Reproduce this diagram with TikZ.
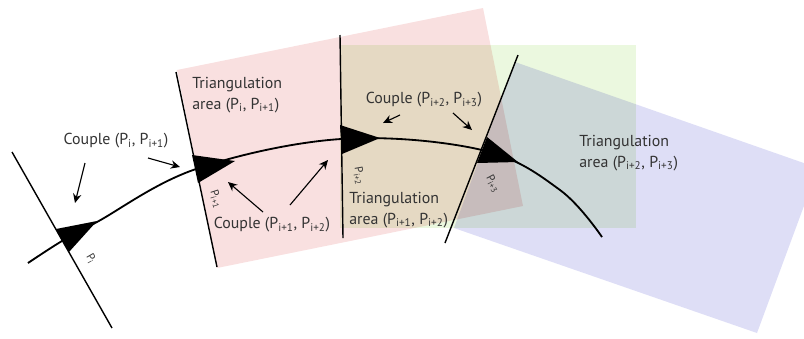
\documentclass[tikz,border=0pt]{standalone}
\usepackage{fontspec}
\setmainfont{PT Sans}
\usetikzlibrary{arrows.meta}
\definecolor{areapink}{RGB}{249,224,224}
\definecolor{areagreen}{RGB}{235,248,223}
\definecolor{areablue}{RGB}{222,222,246}
\tikzset{
  cutline/.style={line width=1pt},
  pathline/.style={line width=1.3pt},
  wedge/.style={fill=black},
  region/.style={blend mode=multiply},
  ptlabel/.style={font=\fontsize{8}{9}\selectfont, inner sep=0pt, text=black!80},
  areatext/.style={align=left, font=\fontsize{11.3}{14.5}\selectfont, inner sep=0pt, anchor=west, text=black!80},
  pairtext/.style={font=\fontsize{11.3}{14.5}\selectfont, inner sep=0pt, text=black!80},
  pointer/.style={-{Stealth[length=2.3mm, width=2.1mm]}, line width=0.8pt}
}
\newcommand{\Pn}[1]{P\textsubscript{#1}}

\begin{document}
\begin{tikzpicture}[x=0.025cm, y=-0.025cm]
  \useasboundingbox (0,0) rectangle (804,338);
  \clip (0,0) rectangle (804,338);

  % triangulation areas
  \fill[areapink, region] (177,70) -- (483,8) -- (523,206) -- (217,268) -- cycle;
  \fill[areagreen, region] (340,45) rectangle (636,228);
  \fill[areablue, region] (515,62) -- (818,168) -- (757,333) -- (454,228) -- cycle;

  % cross-section lines
  \draw[cutline] (12,152) -- (112,328);
  \draw[cutline] (176,72) -- (217,267);
  \draw[cutline] (340,35) -- (343,238);
  \draw[cutline] (518,55) -- (445,243);

  % path and points
  \draw[pathline] plot[smooth, tension=0.6] coordinates {(28,263) (62,241) (97,222) (196,169) (341,139) (482,150) (560,190) (602,237)};
  \fill[wedge] (56,229) -- (97,221) -- (69,252) -- cycle;
  \fill[wedge] (192,155) -- (235,161) -- (198,183) -- cycle;
  \fill[wedge] (340,125) -- (380,138) -- (342,154) -- cycle;
  \fill[wedge] (487,137) -- (518,162) -- (477,163) -- cycle;

  \node[ptlabel, rotate=-60] (p0) at (91,259) {\Pn{i}};
  \node[ptlabel, rotate=-72] (p1) at (216,199) {\Pn{i+1}};
  \node[ptlabel, rotate=-80] (p2) at (359,176) {\Pn{i+2}};
  \node[ptlabel, rotate=-62] (p3) at (493,184) {\Pn{i+3}};

  % labels
  \node[areatext] (area1) at (192,95) {Triangulation\\area (\Pn{i}, \Pn{i+1})};
  \node[areatext] (area2) at (349,210) {Triangulation\\area (\Pn{i+1}, \Pn{i+2})};
  \node[areatext] (area3) at (579,153) {Triangulation\\area (\Pn{i+2}, \Pn{i+3})};

  \node[pairtext] (pair1) at (116,141) {Couple (\Pn{i}, \Pn{i+1})};
  \node[pairtext] (pair2) at (272,225) {Couple (\Pn{i+1}, \Pn{i+2})};
  \node[pairtext] (pair3) at (424,100) {Couple (\Pn{i+2}, \Pn{i+3})};

  % pointers
  \coordinate (a1s) at (85,163);  \coordinate (a1e) at (75,203);
  \coordinate (a2s) at (148,158); \coordinate (a2e) at (180,167);
  \coordinate (a3s) at (263,212); \coordinate (a3e) at (228,182);
  \coordinate (a4s) at (290,205); \coordinate (a4e) at (328,160);
  \coordinate (a5s) at (400,115); \coordinate (a5e) at (383,123);
  \coordinate (a6s) at (453,113); \coordinate (a6e) at (472,130);
  \draw[pointer] (a1s) -- (a1e);
  \draw[pointer] (a2s) -- (a2e);
  \draw[pointer] (a3s) -- (a3e);
  \draw[pointer] (a4s) -- (a4e);
  \draw[pointer] (a5s) -- (a5e);
  \draw[pointer] (a6s) -- (a6e);
\end{tikzpicture}
\end{document}
